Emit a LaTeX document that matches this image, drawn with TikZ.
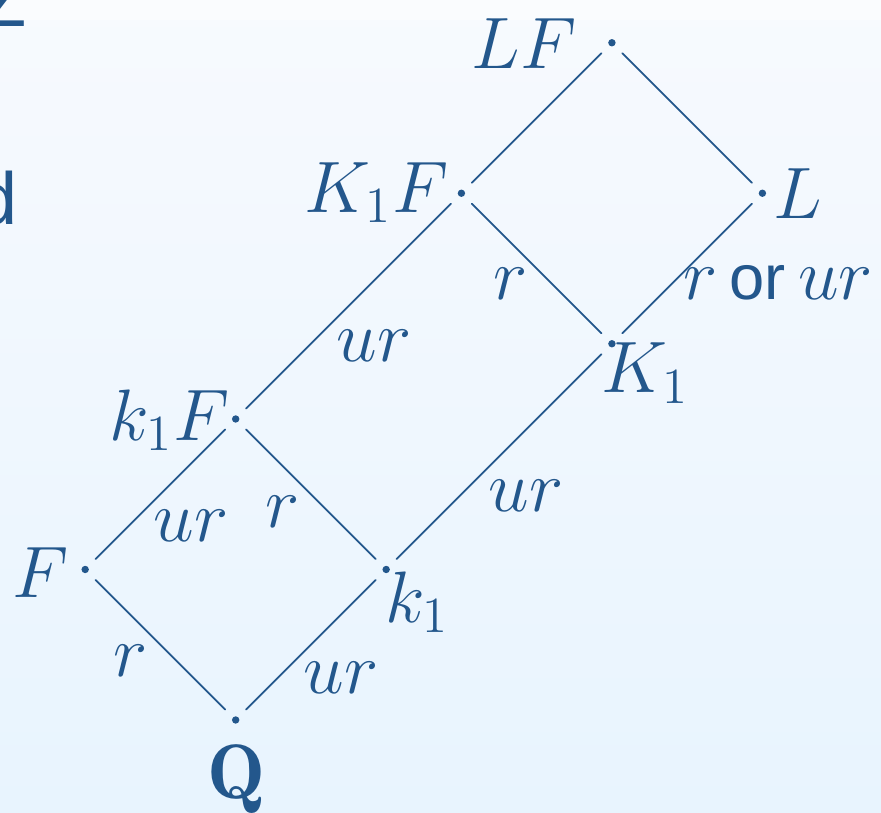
\documentclass[tikz,border=0pt]{standalone}
\usepackage{fontspec}
\setsansfont{Liberation Sans}
\definecolor{slideblue}{RGB}{35,87,140}
\definecolor{bgtop}{RGB}{247,250,254}
\definecolor{bgbot}{RGB}{232,244,254}
\definecolor{bgband}{RGB}{250,252,254}
\tikzset{
  vtx/.style={circle,inner sep=0pt,minimum size=0.28cm,
    path picture={\fill (path picture bounding box.center) circle (0.037cm);}},
  edge/.style={line width=0.5pt},
  lbl/.style={inner sep=0pt}
}
\begin{document}
\begin{tikzpicture}[x=1.505cm,y=1.505cm,line cap=round,line join=round,
    color=slideblue,font=\fontsize{21}{25}\selectfont]
  \useasboundingbox (-1.566,-0.618) rectangle (4.288,4.784);
  \clip (-1.566,-0.618) rectangle (4.288,4.784);
  \shade[top color=bgtop,bottom color=bgbot] (-1.566,-0.618) rectangle (4.288,4.784);
  \fill[bgband] (-1.566,4.651) rectangle (4.288,4.784);
  % cut-off words of the slide's text column
  \node[lbl,anchor=base east] (wZ) at (-1.387,4.605) {\sffamily Z};
  \node[lbl,anchor=base east] (wd) at (-1.447,3.289) {\sffamily d};
  % fields
  \node[vtx] (Q) at (0,0) {};
  \node[vtx] (F) at (-1,1) {};
  \node[vtx] (k1) at (1,1) {};
  \node[vtx] (k1F) at (0,2) {};
  \node[vtx] (K1) at (2.5,2.5) {};
  \node[vtx] (K1F) at (1.5,3.5) {};
  \node[vtx] (L) at (3.5,3.5) {};
  \node[vtx] (LF) at (2.5,4.5) {};
  \foreach \a/\b in {LF/K1F,LF/L,K1F/K1,L/K1,K1F/k1F,K1/k1,k1F/F,k1F/k1,F/Q,k1/Q}
    \draw[edge] (\a) -- (\b);
  % names of the fields
  \node[lbl,anchor=base east] (tLF) at (2.268,4.332) {$LF$};
  \node[lbl,anchor=base east] (tK1F) at (1.417,3.375) {$K_1F$};
  \node[lbl,anchor=base west] (tL) at (3.570,3.329) {$L$};
  \node[lbl,anchor=base west] (tK1) at (2.427,2.173) {$K_1$};
  \node[lbl,anchor=base east] (tk1F) at (-0.038,1.860) {$k_1F$};
  \node[lbl,anchor=base east] (tF) at (-1.108,0.817) {$F$};
  \node[lbl,anchor=base west] (tk1) at (0.992,0.651) {$k_1$};
  \node[lbl,anchor=base] (tQ) at (0.005,-0.525) {\fontsize{22}{26}\selectfont$\mathbf{Q}$};
  % degrees of the extensions
  \node[lbl,anchor=base west] (dK1F) at (1.710,2.797) {$r$};
  \node[lbl,anchor=base west] (dL) at (2.972,2.791)
    {$r$\hspace{0.12cm}{\fontsize{18}{22}\selectfont\sffamily or}\hspace{0.12cm}$ur$};
  \node[lbl,anchor=base west] (dk1FK) at (0.666,2.379) {$ur$};
  \node[lbl,anchor=base west] (dK1) at (1.676,1.382) {$ur$};
  \node[lbl,anchor=base west] (dF) at (-0.550,1.183) {$ur$};
  \node[lbl,anchor=base west] (dk1F) at (0.195,1.282) {$r$};
  \node[lbl,anchor=base west] (dQ) at (-0.815,0.286) {$r$};
  \node[lbl,anchor=base west] (dk1) at (0.447,0.179) {$ur$};
\end{tikzpicture}
\end{document}
